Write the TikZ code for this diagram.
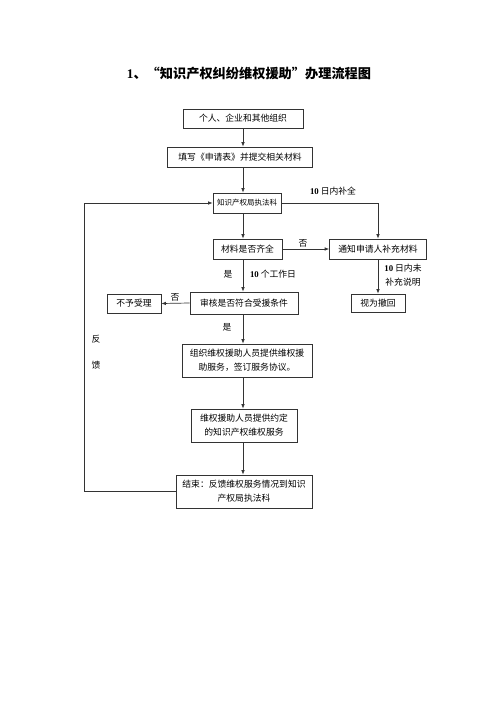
\documentclass[tikz,border=0pt]{standalone}
\usepackage{fontspec}
\setmainfont{Liberation Serif}
\newfontfamily\cjk{Noto Sans CJK SC}
\usetikzlibrary{arrows.meta}

\newcommand{\zahl}[1]{{\rmfamily\bfseries #1}}

\begin{document}
\begin{tikzpicture}[x=1pt, y=-1pt,
        kasten/.style={draw=black!80, line width=0.7pt, inner sep=0pt, align=center,
            font=\cjk\fontsize{8.8}{14}\selectfont},
        beschr/.style={inner sep=0pt, align=center, font=\cjk\fontsize{8.8}{14}\selectfont},
        pfeil/.style={draw=black!80, line width=0.7pt, -{Latex[length=4.5pt,width=3.5pt]}}]
        \useasboundingbox (0,0) rectangle (500,708);

        % zeichne Titel
        \node[font=\cjk\bfseries\fontsize{13.2}{16}\selectfont] (titel) at (249,74)
            {\zahl{1}、“知识产权纠纷维权援助”办理流程图};

        % zeichne Kaesten
        \node[kasten, minimum width=120pt, minimum height=19pt] (antrag) at (243,118.5) {个人、企业和其他组织};
        \node[kasten, minimum width=145pt, minimum height=20pt] (formular) at (240,157) {填写《申请表》并提交相关材料};
        \node[kasten, minimum width=68pt, minimum height=20pt, font=\cjk\fontsize{7.5}{9}\selectfont] (amt) at (247,203) {知识产权局执法科};
        \node[kasten, minimum width=69pt, minimum height=20pt] (vollst) at (247.5,249) {材料是否齐全};
        \node[kasten, minimum width=97pt, minimum height=20pt] (nachr) at (378,249) {通知申请人补充材料};
        \node[kasten, minimum width=108pt, minimum height=22pt] (pruef) at (244,303) {审核是否符合受援条件};
        \node[kasten, minimum width=54pt, minimum height=19pt] (abgel) at (134,303.5) {不予受理};
        \node[kasten, minimum width=54pt, minimum height=18pt] (zurueck) at (378,303) {视为撤回};
        \node[kasten, minimum width=130pt, minimum height=33pt] (orga) at (247,360.5) {组织维权援助人员提供维权援\\助服务，签订服务协议。};
        \node[kasten, minimum width=106pt, minimum height=33pt] (dienst) at (244,425.5) {维权援助人员提供约定\\的知识产权维权服务};
        \node[kasten, minimum width=136pt, minimum height=33pt] (ende) at (244,491.5) {结束：反馈维权服务情况到知识\\产权局执法科};

        % Hilfspunkte
        \coordinate (achse) at (243,0);
        \coordinate (links) at (84,0);

        % zeichne Pfeile
        \draw[pfeil] (antrag.south -| achse) -- (formular.north -| achse);
        \draw[pfeil] (formular.south -| achse) -- (amt.north -| achse);
        \draw[pfeil] (amt.south -| achse) -- (vollst.north -| achse);
        \draw[pfeil] (vollst.south -| achse) -- (pruef.north -| achse);
        \draw[pfeil] (pruef.south -| achse) -- (orga.north -| achse);
        \draw[pfeil] (orga.south -| achse) -- (dienst.north -| achse);
        \draw[pfeil] (dienst.south -| achse) -- (ende.north -| achse);
        \draw[pfeil] (vollst.east) -- (nachr.west);
        \draw[pfeil] (pruef.west) -- (abgel.east);
        \draw[pfeil] (amt.east) -| (nachr.north);
        \draw[pfeil] (nachr.south) -- (zurueck.north);
        \draw[pfeil] (ende.west) -- (ende.west -| links) -- (links |- amt.west) -- (amt.west);

        % zeichne Labels
        \node[beschr] (l1) at (333,191) {\zahl{10} 日内补全};
        \node[beschr] (l2) at (303,243) {否};
        \node[beschr] (l3) at (228,274.5) {是};
        \node[beschr] (l4) at (273,274.5) {\zahl{10} 个工作日};
        \node[beschr] (l5) at (175,297.5) {否};
        \node[beschr] (l6) at (403,275) {\zahl{10} 日内未\\补充说明};
        \node[beschr] (l7) at (227,327.5) {是};
        \node[beschr] (l8) at (96,339) {反};
        \node[beschr] (l9) at (96,365) {馈};
    \end{tikzpicture}
\end{document}
